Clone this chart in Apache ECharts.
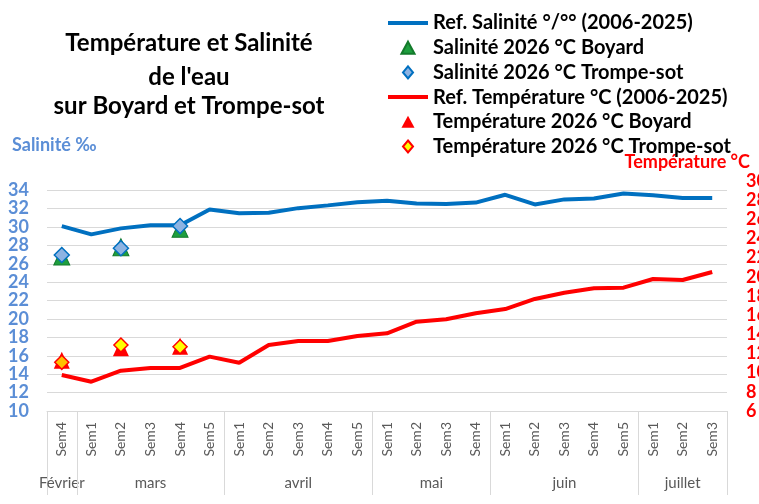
<!DOCTYPE html>
<html><head><meta charset="utf-8">
<script src="https://cdn.jsdelivr.net/npm/echarts@6/dist/echarts.min.js"></script>
<style>html,body{margin:0;padding:0;background:#fff}#c{width:759px;height:504px}</style>
</head><body><div id="c"></div>
<script>
// ---- data ----
const weeks = ['Sem4','Sem1','Sem2','Sem3','Sem4','Sem5','Sem1','Sem2','Sem3','Sem4','Sem5','Sem1','Sem2','Sem3','Sem4','Sem1','Sem2','Sem3','Sem4','Sem5','Sem1','Sem2','Sem3'];
const months = ['Février','mars','avril','mai','juin','juillet'];
const monthSpans = [1,5,5,4,5,3];
const salRef = [30.1,29.2,29.85,30.2,30.2,31.9,31.5,31.55,32.05,32.35,32.7,32.85,32.55,32.5,32.65,33.5,32.45,33.0,33.1,33.65,33.45,33.15,33.15];
const tempRef = [9.76,9.06,10.21,10.49,10.49,11.67,11.04,12.89,13.3,13.3,13.83,14.11,15.32,15.57,16.2,16.64,17.69,18.34,18.8,18.87,19.77,19.67,20.5];
const obsIdx = [0,2,4];
const salBoyard = [26.8,27.8,29.8];
const salTrompe = [26.95,27.7,30.1];
const tempBoyard = [11.29,12.6,12.76];
const tempTrompe = [11.08,12.89,12.71];
const names = ['Ref. Salinité °/°° (2006-2025)','Salinité 2026 °C Boyard','Salinité 2026 °C Trompe-sot','Ref. Température °C (2006-2025)','Température 2026 °C Boyard','Température 2026 °C Trompe-sot'];
const titleLines = ['Température et Salinité',"de l'eau",'sur Boyard et Trompe-sot'];

const FONT = 'Lato';
const BLUE_LBL = '#5B8ED6';
const ICON_LINE = 'path://M0,0H40V4H0Z';
const ICON_TRI = 'path://M6,0L12,11L0,11Z';
const ICON_DIA = 'path://M5,0L10,6L5,12L0,6Z';
const chart = echarts.init(document.getElementById('c'), null, {renderer:'canvas'});
const pairs = vals => obsIdx.map((i,k)=>[i, vals[k]]);

const option = {
  animation:false,
  backgroundColor:'#fff',
  textStyle:{fontFamily:FONT},
  grid:{left:47,right:32,top:181,bottom:93,outerBoundsMode:'none',containLabel:false},
  title: titleLines.map((t,k)=>({text:t,left:189,top:[31,65,94][k],textAlign:'center',padding:0,
    textStyle:{fontFamily:FONT,fontSize:24,fontWeight:'bold',color:'#000'}})),
  legend:{orient:'vertical',left:388,top:13,padding:0,itemWidth:40,itemHeight:12,itemGap:4.7,symbolKeepAspect:true,
    textStyle:{fontFamily:FONT,fontSize:20,fontWeight:'bold',color:'#000',lineHeight:20},
    data:[{name:names[0],icon:ICON_LINE},{name:names[1],icon:ICON_TRI},{name:names[2],icon:ICON_DIA},
          {name:names[3],icon:ICON_LINE},{name:names[4],icon:ICON_TRI},{name:names[5],icon:ICON_DIA}]},
  xAxis:{type:'category',data:weeks,boundaryGap:true,
    axisLine:{lineStyle:{color:'#d9d9d9',width:1}},axisTick:{show:false},
    axisLabel:{rotate:90,margin:11,color:'#595959',fontSize:14,fontFamily:FONT,interval:0}},
  yAxis:[
    {type:'value',min:10,max:35,interval:2,
     axisLabel:{formatter:v=>v>34?'':String(v),color:BLUE_LBL,fontWeight:'bold',fontSize:18,fontFamily:FONT,margin:18},
     splitLine:{lineStyle:{color:'#d9d9d9',width:1},showMaxLine:false},axisLine:{show:false},axisTick:{show:false}},
    {type:'value',min:6,max:30,interval:2,position:'right',
     axisLabel:{color:'#ff0000',fontWeight:'bold',fontSize:18,fontFamily:FONT,margin:19},
     splitLine:{show:false},axisLine:{show:false},axisTick:{show:false}}
  ],
  series:[
    {name:names[0],type:'line',yAxisIndex:0,data:salRef,symbol:'none',lineStyle:{color:'#0070C0',width:4},itemStyle:{color:'#0070C0'},z:2},
    {name:names[3],type:'line',yAxisIndex:1,data:tempRef,symbol:'none',lineStyle:{color:'#FF0000',width:4},itemStyle:{color:'#FF0000'},z:2},
    {name:names[1],type:'scatter',yAxisIndex:0,data:pairs(salBoyard),symbol:'triangle',symbolSize:[16,17],
     itemStyle:{color:'#1E9E3E',borderColor:'#137a2b',borderWidth:1,opacity:1},z:3},
    {name:names[4],type:'scatter',yAxisIndex:1,data:pairs(tempBoyard),symbol:'triangle',symbolSize:[16,17],
     itemStyle:{color:'#FF0000',opacity:1},z:3},
    {name:names[2],type:'scatter',yAxisIndex:0,data:pairs(salTrompe),symbol:'diamond',symbolSize:15,
     itemStyle:{color:'#8DB3E2',borderColor:'#0070C0',borderWidth:1.5,opacity:1},z:4},
    {name:names[5],type:'scatter',yAxisIndex:1,
     data:pairs(tempTrompe).map((p,k)=>k===0?{value:p,itemStyle:{color:'#FFC000'}}:p),
     symbol:'diamond',symbolSize:14,
     itemStyle:{color:'#FFFF00',borderColor:'#FF0000',borderWidth:1.5,opacity:1},z:4}
  ]
};
chart.setOption(option);

// category group separators and month labels positioned via the axis scale
const px = i => chart.convertToPixel({xAxisIndex:0}, i);
const step = px(1) - px(0);
const yBase = chart.convertToPixel({yAxisIndex:0}, 10);
const g = [];
let start = 0;
months.forEach((m,k)=>{
  const l = px(start) - step/2, r = px(start+monthSpans[k]-1) + step/2;
  g.push({type:'line',shape:{x1:Math.round(l)+0.5,y1:yBase,x2:Math.round(l)+0.5,y2:yBase+84},style:{stroke:'#d9d9d9',lineWidth:1},silent:true});
  if (k===months.length-1) g.push({type:'line',shape:{x1:Math.round(r)+0.5,y1:yBase,x2:Math.round(r)+0.5,y2:yBase+84},style:{stroke:'#d9d9d9',lineWidth:1},silent:true});
  g.push({type:'text',x:(l+r)/2,y:yBase+72,style:{text:m,fill:'#595959',font:'15px '+FONT,textAlign:'center',textVerticalAlign:'middle'},silent:true});
  start += monthSpans[k];
});
g.push({type:'text',x:12,y:145,style:{text:'Salinité ‰',fill:BLUE_LBL,font:'bold 18px '+FONT,textAlign:'left',textVerticalAlign:'middle'}});
g.push({type:'text',x:750,y:162,style:{text:'Température °C',fill:'#FF0000',font:'bold 18px '+FONT,textAlign:'right',textVerticalAlign:'middle'}});
chart.setOption({graphic:g});
</script></body></html>
